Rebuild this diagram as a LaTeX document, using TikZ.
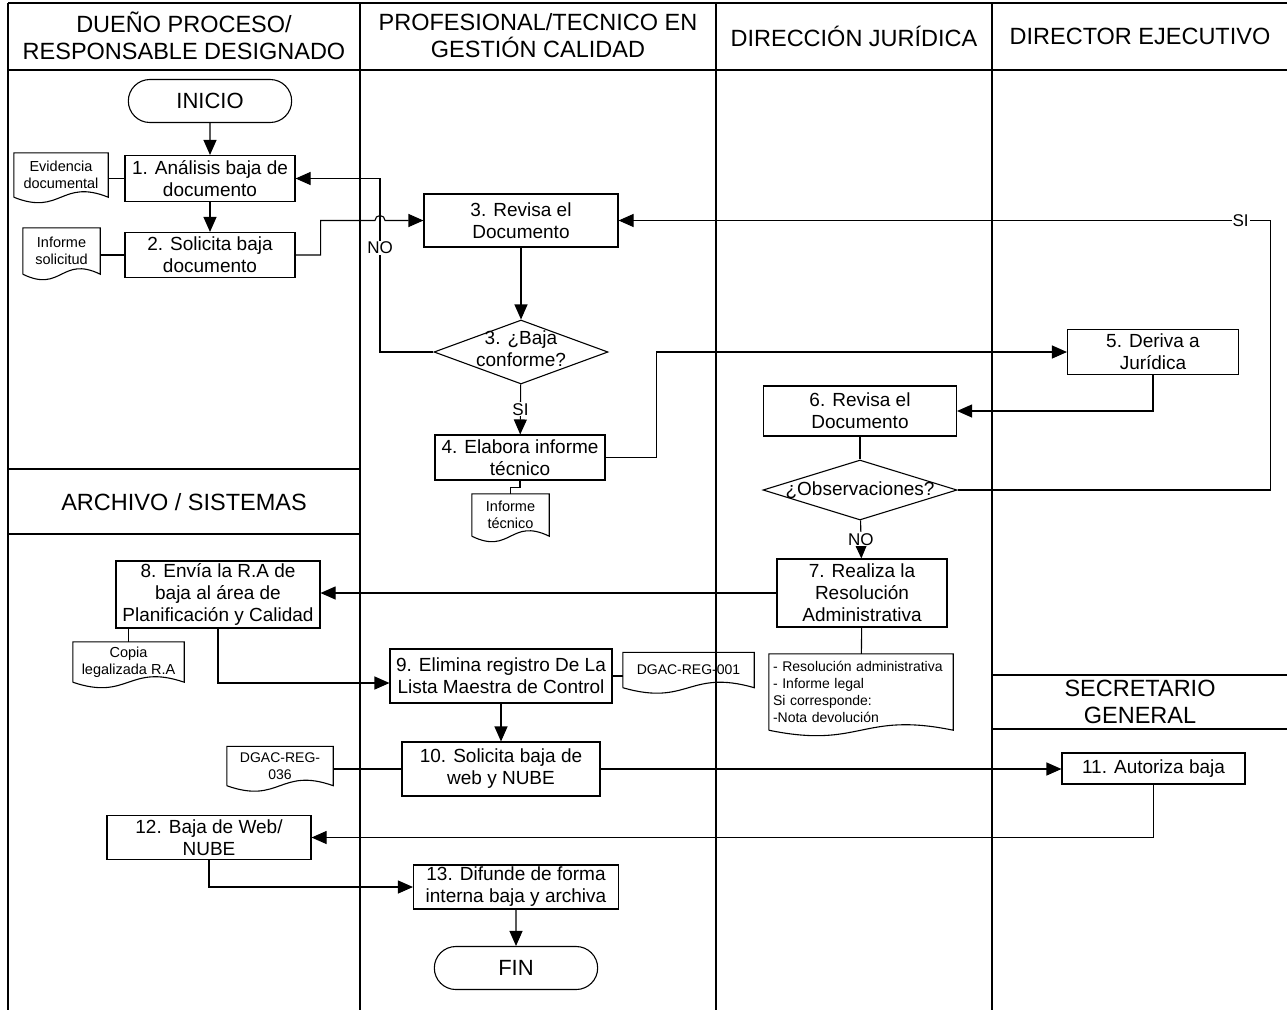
\documentclass[tikz,border=0pt]{standalone}
\usepackage{fontspec}
\setmainfont{Liberation Sans}
\usetikzlibrary{arrows.meta,calc,shapes.geometric,shapes.misc}

\tikzset{
  proc/.style={draw, line width=1.1pt, align=center, inner sep=1pt, font=\fontsize{19}{22}\selectfont},
  term/.style={draw, rounded rectangle, line width=1.1pt, minimum width=170pt, minimum height=43pt, font=\fontsize{22}{26}\selectfont},
  decision/.style={draw, diamond, line width=1.1pt, inner sep=0pt},
  docu/.style={align=center, inner sep=1pt, font=\fontsize{14.5}{17}\selectfont},
  lbl/.style={fill=white, inner sep=1pt, font=\fontsize{17}{20}\selectfont},
  lanehead/.style={align=center, font=\fontsize{23.5}{27}\selectfont},
  lane/.style={line width=1.5pt},
  flow/.style={line width=1.1pt},
}

% document shape: wavy bottom on the node's south side
\newcommand{\docwave}[1]{%
  \draw[flow] (#1.south west) -- (#1.north west) -- (#1.north east) -- (#1.south east)
    .. controls ($(#1.south)+(0,-19)$) and ($(#1.south)+(0,19)$) .. (#1.south west);}

\begin{document}
\begin{tikzpicture}[x=1pt, y=-1pt, >={Triangle[length=15pt,width=13pt]}]
  \useasboundingbox (0,0) rectangle (1287,1010);

  % lanes
  \draw[lane] (8,3) -- (1287,3);
  \draw[lane] (8,70) -- (1287,70);
  \foreach \x in {8,360,716,992} {
    \draw[lane] (\x,3) -- (\x,1010);
  }
  \draw[lane] (8,469) -- (360,469) (8,534) -- (360,534);
  \draw[lane] (992,675) -- (1287,675) (992,729) -- (1287,729);

  \node[lanehead] (h1) at (184,36) {DUEÑO PROCESO/\\RESPONSABLE DESIGNADO};
  \node[lanehead] (h2) at (538,36) {PROFESIONAL/TECNICO EN\\GESTIÓN CALIDAD};
  \node[lanehead] (h3) at (854,36) {DIRECCIÓN JURÍDICA};
  \node[lanehead] (h4) at (1140,36) {DIRECTOR EJECUTIVO};
  \node[lanehead] (h5) at (184,502) {ARCHIVO / SISTEMAS};
  \node[lanehead] (h6) at (1140,702) {SECRETARIO\\GENERAL};

  % steps
  \node[term] (inicio) at (210,101) {INICIO};
  \node[proc, minimum width=170pt, minimum height=46pt] (a1) at (210,178.5) {1. Análisis baja de\\documento};
  \node[proc, minimum width=170pt, minimum height=45pt] (a2) at (210,255) {2. Solicita baja\\documento};
  \node[proc, minimum width=194pt, minimum height=53pt] (a3) at (521,220.5) {3. Revisa el\\Documento};
  \node[decision, minimum width=174pt, minimum height=64pt] (d3) at (521,352) {};
  \node[proc, draw=none] (d3t) at (521,349) {3. ¿Baja\\conforme?};
  \node[proc, minimum width=170pt, minimum height=45pt] (a4) at (520,457.5) {4. Elabora informe\\técnico};
  \node[proc, minimum width=171pt, minimum height=45pt] (a5) at (1153,352) {5. Deriva a\\Jurídica};
  \node[proc, minimum width=193pt, minimum height=50pt] (a6) at (860,411) {6. Revisa el\\Documento};
  \node[decision, minimum width=194pt, minimum height=60pt] (d6) at (860,490) {};
  \node[proc, draw=none] (d6t) at (860,490) {¿Observaciones?};
  \node[proc, minimum width=170pt, minimum height=68pt] (a7) at (862,593) {7. Realiza la\\Resolución\\Administrativa};
  \node[proc, minimum width=204pt, minimum height=67pt] (a8) at (218,594.5) {8. Envía la R.A de\\baja al área de\\Planificación y Calidad};
  \node[proc, minimum width=222pt, minimum height=54pt] (a9) at (501,676) {9. Elimina registro De La\\Lista Maestra de Control};
  \node[proc, minimum width=198pt, minimum height=54pt] (a10) at (501,769) {10. Solicita baja de\\web y NUBE};
  \node[proc, minimum width=183pt, minimum height=31pt] (a11) at (1153.5,768.5) {11. Autoriza baja};
  \node[proc, minimum width=204pt, minimum height=44pt] (a12) at (209,837.5) {12. Baja de Web/\\NUBE};
  \node[proc, minimum width=205pt, minimum height=44pt] (a13) at (516,887) {13. Difunde de forma\\interna baja y archiva};
  \node[term] (fin) at (516,968) {FIN};

  % documents
  \node[docu, minimum width=94pt, minimum height=44pt] (ev) at (61,175) {Evidencia\\documental};
  \node[docu, minimum width=77pt, minimum height=46pt] (infsol) at (61.5,251) {Informe\\solicitud};
  \node[docu, minimum width=77pt, minimum height=42pt] (inftec) at (510.5,515) {Informe\\técnico};
  \node[docu, align=left, text width=176pt, inner xsep=4pt, minimum height=76pt, font=\fontsize{14}{17}\selectfont] (resdoc) at (861,692)
    {- Resolución administrativa\\- Informe legal\\Si corresponde:\\-Nota devolución};
  \node[docu, minimum width=111pt, minimum height=40pt] (copia) at (128.5,662) {Copia\\legalizada R.A};
  \node[docu, minimum width=131pt, minimum height=35pt, font=\fontsize{14}{17}\selectfont] (dgac1) at (688.5,670) {DGAC-REG-001};
  \node[docu, minimum width=106pt, minimum height=39pt, font=\fontsize{14}{17}\selectfont] (dgac36) at (280,766) {DGAC-REG-\\036};
  \foreach \d in {ev,infsol,inftec,resdoc,copia,dgac1,dgac36} {
    \docwave{\d}
  }

  \coordinate (nox) at (380,0);

  % connectors
  \draw[flow,->] (inicio) -- (a1);
  \draw[flow] (a1.west) -- (a1.west -| ev.east);
  \draw[flow,->] (a1) -- (a2);
  \draw[flow] (a2.west) -- (a2.west -| infsol.east);
  \draw[flow,->] (a2.east) -- ++(25,0) |- ($(nox |- a3.west)+(-5,0)$)
    arc[start angle=180, end angle=0, radius=5pt] -- (a3.west);
  \draw[flow,->] (a3) -- (d3);
  \draw[flow,->] (d3.west) -| node[lbl, pos=0.8] (no1) {NO} (nox |- a1.east) -- (a1.east);
  \draw[flow,->] (d3) -- node[lbl] (si1) {SI} (a4);
  \draw[flow] (a4.south) -- ++(0,7) -| (inftec.north);
  \draw[flow,->] (a4.east) -- ++(51,0) |- (a5.west);
  \draw[flow,->] (a5.south) |- (a6.east);
  \draw[flow] (a6) -- (d6);
  \draw[flow,->] (d6.east) -- ++(313,0) |- node[lbl, pos=0.523] (si2) {SI} (a3.east);
  \draw[flow,->] (d6) -- node[lbl] (no2) {NO} (a7);
  \draw[flow] (a7) -- (resdoc);
  \draw[flow,->] (a7.west) -- (a7.west -| a8.east);
  \draw[flow] (copia.north) -- (copia.north |- a8.south);
  \draw[flow,->] (a8.south) |- ($(a9.west)+(0,7)$);
  \draw[flow] (a9.east) -- (a9.east -| dgac1.west);
  \draw[flow,->] (a9) -- (a10);
  \draw[flow] (a10.west) -- (a10.west -| dgac36.east);
  \draw[flow,->] (a10.east) -- (a10.east -| a11.west);
  \draw[flow,->] (a11.south) |- (a12.east);
  \draw[flow,->] (a12.south) |- (a13.west);
  \draw[flow,->] (a13) -- (fin);
\end{tikzpicture}
\end{document}
